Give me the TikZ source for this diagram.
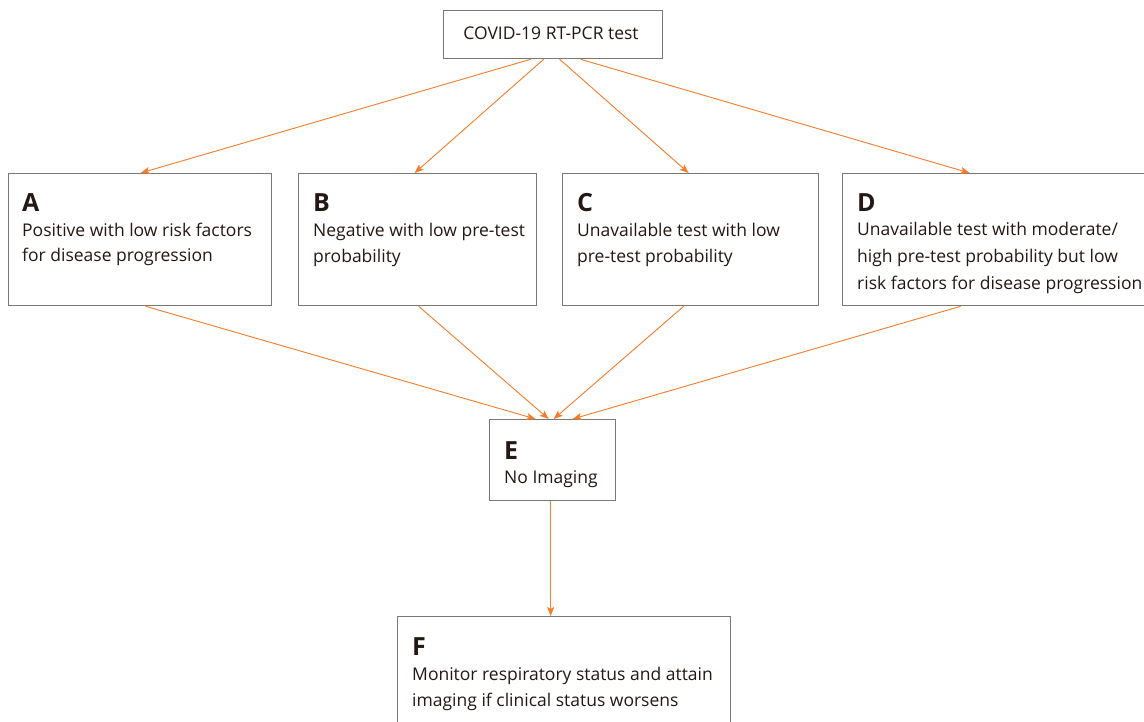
\documentclass[tikz,border=0pt]{standalone}
\usepackage{fontspec}
\setmainfont{Open Sans}
\usetikzlibrary{arrows.meta}
\definecolor{arr}{RGB}{246,124,42}
\definecolor{bx}{RGB}{125,118,118}
\definecolor{txt}{RGB}{35,24,21}
\tikzset{
  boxn/.style={draw=bx, line width=1.3pt, rectangle, inner sep=0pt, anchor=north west},
  lbl/.style={font=\fontsize{25}{25}\selectfont\bfseries, text=txt, anchor=base west, inner sep=0pt},
  bodytxt/.style={font=\fontsize{17.5}{17.5}\selectfont, text=txt, anchor=base west, inner sep=0pt},
  conn/.style={draw=arr, line width=0.9pt, -{Stealth[length=9pt,width=7pt,inset=2pt]}}
}
\begin{document}
\begin{tikzpicture}[x=1pt,y=-1pt]
\useasboundingbox (0,0) rectangle (1144,722);
\fill[white] (0,0) rectangle (1144,722);
% boxes
\node[boxn, minimum width=219pt, minimum height=48pt] (top) at (443,10) {};
\node[boxn, minimum width=263pt, minimum height=132pt] (A) at (8,173) {};
\node[boxn, minimum width=238pt, minimum height=132pt] (B) at (298,173) {};
\node[boxn, minimum width=256pt, minimum height=132pt] (C) at (562,173) {};
\node[boxn, minimum width=310pt, minimum height=132pt] (D) at (842,173) {};
\node[boxn, minimum width=126pt, minimum height=81pt] (E) at (489,419) {};
\node[boxn, minimum width=333pt, minimum height=120pt] (F) at (397,616) {};
% texts
\node[bodytxt, anchor=base] (ttop) at (551,40) {COVID-19 RT-PCR test};
\node[lbl] (lA) at (22,212) {A};
\node[bodytxt] (tA1) at (22,237) {Positive with low risk factors};
\node[bodytxt] (tA2) at (22,262) {for disease progression};
\node[lbl] (lB) at (313,212) {B};
\node[bodytxt] (tB1) at (313,237) {Negative with low pre-test};
\node[bodytxt] (tB2) at (313,263) {probability};
\node[lbl] (lC) at (577,212) {C};
\node[bodytxt] (tC1) at (577,237) {Unavailable test with low};
\node[bodytxt] (tC2) at (577,263) {pre-test probability};
\node[lbl] (lD) at (857,212) {D};
\node[bodytxt] (tD1) at (857,236) {Unavailable test with moderate/};
\node[bodytxt] (tD2) at (857,263) {high pre-test probability but low};
\node[bodytxt] (tD3) at (857,290) {risk factors for disease progression};
\node[lbl] (lE) at (504,459) {E};
\node[bodytxt] (tE1) at (504,483) {No Imaging};
\node[lbl] (lF) at (412,655) {F};
\node[bodytxt] (tF1) at (412,680) {Monitor respiratory status and attain};
\node[bodytxt] (tF2) at (412,706) {imaging if clinical status worsens};
% connectors
\draw[conn] ([xshift=-22.5pt]top.south) -- ([xshift=0.5pt]A.north);
\draw[conn] ([xshift=-9.5pt]top.south) -- ([xshift=-3pt]B.north);
\draw[conn] ([xshift=6.5pt]top.south) -- ([xshift=-2pt]C.north);
\draw[conn] ([xshift=27.5pt]top.south) -- ([xshift=-28pt]D.north);
\draw[conn] ([xshift=5.5pt]A.south) -- ([xshift=-17pt]E.north);
\draw[conn] ([xshift=1pt]B.south) -- ([xshift=-4pt]E.north);
\draw[conn] ([xshift=-7pt]C.south) -- ([xshift=1pt]E.north);
\draw[conn] ([xshift=-37pt]D.south) -- ([xshift=20pt]E.north);
\draw[conn] ([xshift=-2pt]E.south) -- ([xshift=-13.5pt]F.north);
\end{tikzpicture}
\end{document}
